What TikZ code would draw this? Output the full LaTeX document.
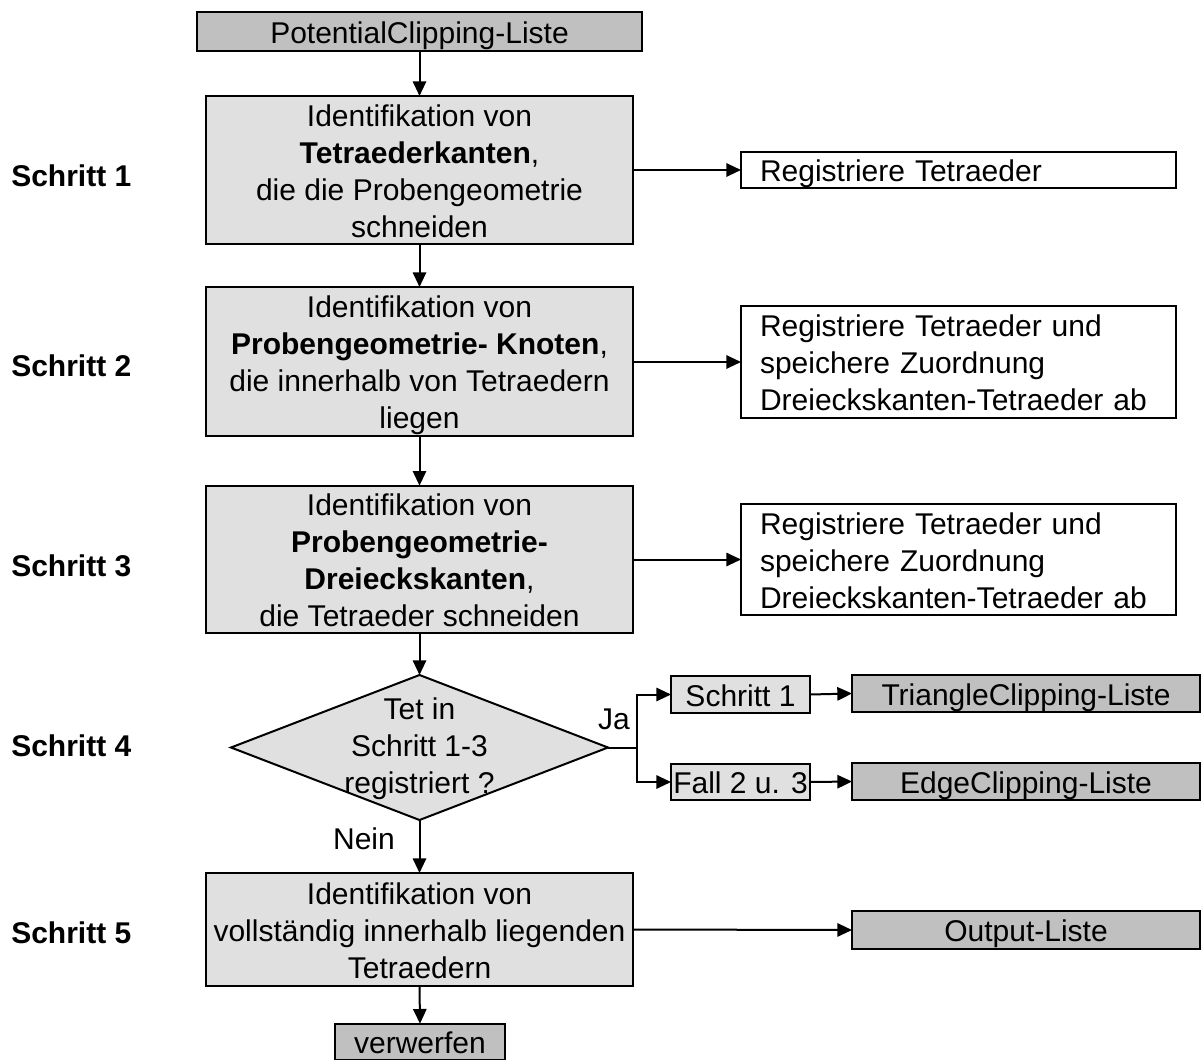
\documentclass[tikz,border=0pt]{standalone}
\usepackage{fontspec}
\setmainfont{Liberation Sans}
\usetikzlibrary{arrows.meta,shapes.geometric}
\definecolor{boxdark}{HTML}{C0C0C0}
\definecolor{boxlight}{HTML}{E0E0E0}
% struts that give every text block the same ascent and descent
\newcommand\topfix{\rule{0pt}{22.5pt}}
\newcommand\botfix{\rule[-5pt]{0pt}{5pt}}
\begin{document}
\begin{tikzpicture}[x=0.75pt,y=-0.75pt,
  font=\fontsize{22.5}{27.75}\selectfont,
  box/.style={draw=black, line width=1.5pt, inner sep=0pt, outer sep=0pt, align=center},
  dark/.style={box, fill=boxdark},
  light/.style={box, fill=boxlight},
  note/.style={draw=black, line width=1.5pt, fill=white, outer sep=0pt,
    inner xsep=14.25pt, inner ysep=0pt, align=left, text width=297.75pt},
  arr/.style={line width=1.5pt, -{Triangle[length=11pt,width=10pt]}},
  link/.style={line width=1.5pt},
  steplabel/.style={font=\fontsize{22.5}{27.75}\selectfont\bfseries, anchor=west, inner sep=0pt}
]
\useasboundingbox (0,0) rectangle (1201,1059);

% main column
\node[dark, minimum width=445*0.75pt, minimum height=39*0.75pt] (pcl) at (419.5,31.5)
  {\topfix PotentialClipping-Liste\botfix};
\node[light, minimum width=427*0.75pt, minimum height=148*0.75pt] (s1) at (419.5,170)
  {\topfix Identifikation von\\\textbf{Tetraederkanten},\\die die Probengeometrie\\schneiden\botfix};
\node[light, minimum width=427*0.75pt, minimum height=149*0.75pt] (s2) at (419.5,361.5)
  {\topfix Identifikation von\\\textbf{Probengeometrie- Knoten},\\die innerhalb von Tetraedern\\liegen\botfix};
\node[light, minimum width=427*0.75pt, minimum height=147*0.75pt] (s3) at (419.5,559.5)
  {\topfix Identifikation von\\\textbf{Probengeometrie-}\\\textbf{Dreieckskanten},\\die Tetraeder schneiden\botfix};
\node[diamond, draw=black, line width=1.5pt, fill=boxlight, inner sep=0pt, outer sep=0pt,
  minimum width=377*0.75pt, minimum height=145*0.75pt] (dec) at (419.5,747.5) {};
\node[align=center, inner sep=0pt] (dectext) at (419.5,745)
  {\topfix Tet in\\Schritt 1-3\\registriert ?\botfix};
\node[light, minimum width=427*0.75pt, minimum height=113*0.75pt] (s5) at (419.5,929.5)
  {\topfix Identifikation von\\vollständig innerhalb liegenden\\Tetraedern\botfix};
\node[dark, minimum width=170*0.75pt, minimum height=36*0.75pt] (verw) at (420,1042)
  {\topfix verwerfen\botfix};

% right column
\node[note, minimum height=36*0.75pt] (r1) at (958.5,170) {\topfix Registriere Tetraeder\botfix};
\node[note, minimum height=112*0.75pt] (r2) at (958.5,362)
  {\topfix Registriere Tetraeder und\\speichere Zuordnung\\Dreieckskanten-Tetraeder ab\botfix};
\node[note, minimum height=108*0.75pt] (r3) at (958.5,559.5)
  {\topfix Registriere Tetraeder und\\speichere Zuordnung\\Dreieckskanten-Tetraeder ab\botfix};
\node[light, minimum width=139*0.75pt, minimum height=35*0.75pt] (sk1) at (740.5,694.5)
  {\topfix Schritt 1\botfix};
\node[light, minimum width=139*0.75pt, minimum height=34*0.75pt] (fall) at (740.5,782)
  {\topfix Fall 2 u. 3\botfix};
\node[dark, minimum width=348*0.75pt, minimum height=37*0.75pt] (tri) at (1026,693.5)
  {\topfix TriangleClipping-Liste\botfix};
\node[dark, minimum width=348*0.75pt, minimum height=37*0.75pt] (edge) at (1026,781.5)
  {\topfix EdgeClipping-Liste\botfix};
\node[dark, minimum width=348*0.75pt, minimum height=38*0.75pt] (out) at (1026,930)
  {\topfix Output-Liste\botfix};

% step labels
\node[steplabel] (l1) at (11,175) {\topfix Schritt 1\botfix};
\node[steplabel] (l2) at (11,365) {\topfix Schritt 2\botfix};
\node[steplabel] (l3) at (11,565) {\topfix Schritt 3\botfix};
\node[steplabel] (l4) at (11,745) {\topfix Schritt 4\botfix};
\node[steplabel] (l5) at (11,932) {\topfix Schritt 5\botfix};

% branch labels
\node (ja) at (614,719) {Ja};
\node (nein) at (364,839) {Nein};

% connectors
\draw[arr] (pcl.south) -- (s1.north);
\draw[arr] (s1.south) -- (s2.north);
\draw[arr] (s2.south) -- (s3.north);
\draw[arr] (s3.south) -- (dec.north);
\draw[arr] (dec.south) -- (s5.north);
\draw[arr] (s5.south) -- (verw.north);
\draw[arr] (s1.east) -- (r1.west);
\draw[arr] (r2.west -| s2.east) -- (r2.west);
\draw[arr] (r3.west -| s3.east) -- (r3.west);
\coordinate (br) at (637,747.5);
\draw[link] (dec.east) -- (br);
\draw[arr] (br) |- (sk1.west);
\draw[arr] (br) |- (fall.west);
\draw[arr] (sk1.east) -- (tri.west);
\draw[arr] (fall.east) -- (edge.west);
\draw[arr] (s5.east) -- (out.west);
\end{tikzpicture}
\end{document}
